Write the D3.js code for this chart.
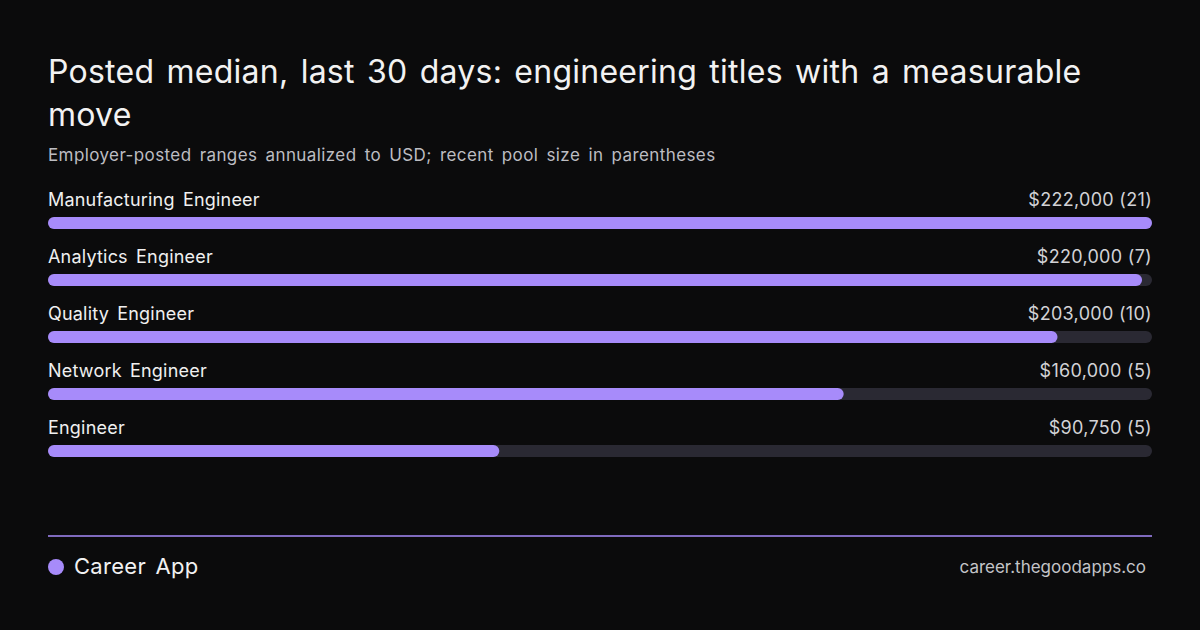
<!DOCTYPE html>
<html>
<head>
<meta charset="utf-8">
<script src="https://cdn.jsdelivr.net/npm/d3@7"></script>
<style>
  html, body { margin: 0; padding: 0; background: #0b0b0c; }
  svg { display: block; font-family: Inter, "Noto Sans", sans-serif; word-spacing: 3px; }
</style>
</head>
<body>
<svg id="chart"></svg>
<script>
// data
var titles = ["Manufacturing Engineer", "Analytics Engineer", "Quality Engineer", "Network Engineer", "Engineer"]
var medians = [222000, 220000, 203000, 160000, 90750]
var pools = [21, 7, 10, 5, 5]

var titleText = "Posted median, last 30 days: engineering titles with a measurable move"
var subtitleText = "Employer-posted ranges annualized to USD; recent pool size in parentheses"
var brandText = "Career App"
var urlText = "career.thegoodapps.co"

var width = 1200
var height = 630
var margins = {left: 48, right: 48}
var violet = "#a78bfa"

var svg = d3.select("#chart")
    .attr("width", width)
    .attr("height", height)

svg.append("rect")
    .attr("width", width)
    .attr("height", height)
    .attr("fill", "#0b0b0c")

// title, wrapped by measuring
var title = svg.append("text")
    .attr("x", margins.left)
    .attr("y", 83)
    .attr("fill", "#f2f2f2")
    .attr("font-size", 32)
    .attr("letter-spacing", 0.25)
    .attr("word-spacing", 3)

var words = titleText.split(" ")
var line = []
var tspan = title.append("tspan").attr("x", margins.left).attr("dy", 0)
words.forEach(function(w){
    line.push(w)
    tspan.text(line.join(" "))
    if (tspan.node().getComputedTextLength() > width - margins.left - margins.right && line.length > 1) {
        line.pop()
        tspan.text(line.join(" "))
        line = [w]
        tspan = title.append("tspan").attr("x", margins.left).attr("dy", 43).text(w)
    }
})

svg.append("text")
    .attr("x", margins.left)
    .attr("y", 161)
    .attr("fill", "#bdbdc2")
    .attr("font-size", 17)
    .attr("letter-spacing", 0.4)
    .attr("word-spacing", 3)
    .text(subtitleText)

// scales
var rows = d3.range(titles.length)
var xScale = d3.scaleLinear()
    .domain([0, d3.max(medians)])
    .range([0, width - margins.left - margins.right])

var yScale = d3.scalePoint()
    .domain(rows)
    .range([217, 217 + 57 * (titles.length - 1)])

var barH = 12

var row = svg.selectAll("g.row")
    .data(rows)
    .enter()
    .append("g")
    .attr("class", "row")
    .attr("transform", function(i){ return "translate(" + margins.left + "," + yScale(i) + ")" })

row.append("rect")
    .attr("class", "track")
    .attr("width", xScale.range()[1])
    .attr("height", barH)
    .attr("rx", barH / 2)
    .attr("fill", "#2a2933")

row.append("rect")
    .attr("class", "bar")
    .attr("width", function(i){ return xScale(medians[i]) })
    .attr("height", barH)
    .attr("rx", barH / 2)
    .attr("fill", violet)

row.append("text")
    .attr("x", 0)
    .attr("y", -11)
    .attr("fill", "#f0f0f0")
    .attr("font-size", 18)
    .attr("letter-spacing", 0.2)
    .text(function(i){ return titles[i] })

row.append("text")
    .attr("x", xScale.range()[1])
    .attr("y", -11)
    .attr("text-anchor", "end")
    .attr("fill", "#d2d2d6")
    .attr("font-size", 18)
    .attr("letter-spacing", 0.3)
    .attr("word-spacing", 0)
    .text(function(i){ return "$" + d3.format(",")(medians[i]) + " (" + pools[i] + ")" })

// footer
svg.append("line")
    .attr("x1", margins.left)
    .attr("x2", width - margins.right)
    .attr("y1", 536)
    .attr("y2", 536)
    .attr("stroke", violet)
    .attr("stroke-width", 1.5)

svg.append("circle")
    .attr("cx", 56)
    .attr("cy", 567)
    .attr("r", 8)
    .attr("fill", violet)

svg.append("text")
    .attr("x", 74)
    .attr("y", 574)
    .attr("fill", "#f2f2f2")
    .attr("font-size", 22)
    .attr("letter-spacing", 0.3)
    .text(brandText)

svg.append("text")
    .attr("x", 1146)
    .attr("y", 573)
    .attr("text-anchor", "end")
    .attr("fill", "#c4c4c8")
    .attr("font-size", 17)
    .attr("word-spacing", 0)
    .text(urlText)
</script>
</body>
</html>
